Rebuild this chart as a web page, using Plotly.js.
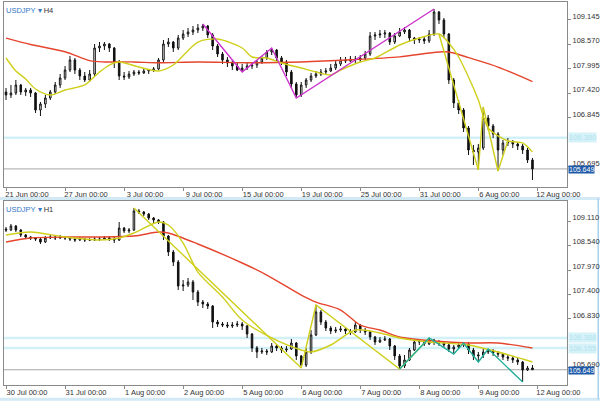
<!DOCTYPE html>
<html><head><meta charset="utf-8">
<script src="https://cdn.plot.ly/plotly-3.0.1.min.js"></script>
<style>html,body{margin:0;padding:0;background:#fff;}#chart{width:600px;height:402px;}</style>
</head><body><div id="chart"></div>
<script>
// ---------- H4 panel (USDJPY, 8-hour steps) ----------
const h4TimeLabels = ["21 Jun 00:00","27 Jun 00:00","3 Jul 00:00","9 Jul 00:00","15 Jul 00:00","19 Jul 00:00","25 Jul 00:00","31 Jul 00:00","6 Aug 00:00","12 Aug 00:00"];
const timeTickIdx = [0,12,24,36,48,60,72,84,96,108];
const h4PriceTicks = [109.145,108.570,107.995,107.420,106.845,105.695];

const h4Open = [107.455,107.384,107.431,107.619,107.455,107.502,107.431,107.032,107.173,107.314,
107.455,107.619,107.783,107.971,108.206,107.971,107.830,107.736,107.877,108.487,
108.534,108.581,108.487,108.159,107.830,107.807,107.877,107.924,107.901,107.948,
107.971,107.995,108.206,108.581,108.628,108.487,108.722,108.816,108.863,108.910,
108.957,109.004,108.793,108.534,108.347,108.206,108.135,108.065,107.971,108.018,
108.065,108.088,108.159,108.253,108.394,108.440,108.253,108.159,107.924,107.643,
107.384,107.619,107.736,107.830,107.877,107.924,107.948,108.018,108.112,108.206,
108.182,108.229,108.206,108.253,108.347,108.769,108.793,108.816,108.839,108.628,
108.769,108.863,108.910,108.722,108.675,108.699,108.652,108.816,109.332,109.145,
108.816,107.736,107.197,107.032,106.610,106.093,106.047,106.140,106.845,106.657,
106.469,106.093,106.258,106.281,106.234,106.187,106.093,105.859];
const h4High = [107.549,107.619,107.736,107.643,107.549,107.549,107.455,107.220,107.384,107.502,
107.689,107.877,108.065,108.300,108.253,108.018,107.924,107.971,108.581,108.628,
108.628,108.605,108.511,108.206,107.924,107.948,107.971,107.971,107.995,107.995,
108.041,108.253,108.675,108.722,108.652,108.793,108.910,108.957,109.004,109.051,
109.051,109.027,108.839,108.581,108.394,108.276,108.206,108.135,108.112,108.135,
108.135,108.206,108.300,108.440,108.487,108.464,108.300,108.206,107.971,107.689,
107.689,107.783,107.901,107.948,107.995,108.018,108.112,108.182,108.276,108.276,
108.300,108.300,108.323,108.417,108.863,108.863,108.910,108.910,108.863,108.839,
108.957,108.980,108.933,108.746,108.746,108.746,108.910,109.403,109.356,109.192,
108.839,107.783,107.267,107.079,106.657,106.211,106.234,107.103,106.915,106.704,
106.516,106.328,106.375,106.328,106.281,106.234,106.140,105.906];
const h4Low = [107.267,107.314,107.384,107.384,107.361,107.337,106.962,106.891,107.079,107.267,
107.408,107.549,107.736,107.924,107.877,107.736,107.689,107.689,107.830,108.394,
108.440,108.394,108.018,107.736,107.736,107.760,107.830,107.854,107.877,107.877,
107.924,107.971,108.159,108.511,108.394,108.440,108.675,108.746,108.793,108.839,
108.886,108.722,108.440,108.276,108.112,108.041,107.971,107.948,107.924,107.971,
107.995,108.018,108.112,108.206,108.323,108.182,108.088,107.830,107.549,107.314,
107.337,107.549,107.689,107.783,107.830,107.877,107.924,107.971,108.065,108.135,
108.159,108.135,108.159,108.206,108.300,108.675,108.722,108.722,108.558,108.581,
108.746,108.816,108.628,108.581,108.605,108.581,108.605,108.769,109.051,108.722,
107.643,107.079,106.938,106.516,105.976,105.741,105.624,106.093,106.563,106.375,
105.601,105.976,106.187,106.140,106.093,106.000,105.788,105.389];
const h4Close = [107.384,107.431,107.619,107.455,107.502,107.431,107.032,107.173,107.314,107.455,
107.619,107.783,107.971,108.206,107.971,107.830,107.736,107.877,108.487,108.534,
108.581,108.487,108.159,107.830,107.807,107.877,107.924,107.901,107.948,107.971,
107.995,108.206,108.581,108.628,108.487,108.722,108.816,108.863,108.910,108.957,
109.004,108.793,108.534,108.347,108.206,108.135,108.065,107.971,108.018,108.065,
108.088,108.159,108.253,108.394,108.440,108.253,108.159,107.924,107.643,107.384,
107.619,107.736,107.830,107.877,107.924,107.948,108.018,108.112,108.206,108.182,
108.229,108.206,108.253,108.347,108.769,108.793,108.816,108.839,108.628,108.769,
108.863,108.910,108.722,108.675,108.699,108.652,108.816,109.332,109.145,108.816,
107.736,107.197,107.032,106.610,106.093,106.047,106.140,106.845,106.657,106.469,
106.093,106.258,106.281,106.234,106.187,106.093,105.859,105.649];

const h4RedMaIdx = [0,5,12,17,20,26,31,39,50,60,70,80,86,89,91,94,100,107];
const h4RedMaVal = [108.72,108.57,108.40,108.19,108.16,108.16,108.14,108.16,108.14,108.16,108.21,108.28,108.37,108.40,108.37,108.26,108.04,107.70];
const h4YelMaIdx = [0,2,4,6,9,12,16,19,21,23,27,31,34,39,43,48,50,53,56,60,63,66,68,72,75,80,84,88,90,92,94,96,98,102,105,107];
const h4YelMaVal = [108.253,107.948,107.760,107.525,107.384,107.502,107.619,107.924,108.088,108.159,108.041,107.948,108.088,108.628,108.699,108.487,108.276,108.253,108.135,108.018,107.924,107.854,107.971,108.159,108.253,108.558,108.722,108.816,108.605,108.276,107.807,107.267,106.610,106.305,106.258,106.047];
const h4ZzMagIdx = [40,48,54,59,87];
const h4ZzMagVal = [109.051,107.924,108.487,107.314,109.403];
const h4ZzYelIdx = [88,96,97,100,102];
const h4ZzYelVal = [108.816,105.624,107.103,105.601,106.305];
const h4Levels = [106.380];

// ---------- H1 panel (2-hour steps) ----------
const h1TimeLabels = ["30 Jul 00:00","31 Jul 00:00","1 Aug 00:00","2 Aug 00:00","5 Aug 00:00","6 Aug 00:00","7 Aug 00:00","8 Aug 00:00","9 Aug 00:00","12 Aug 00:00"];
const h1PriceTicks = [109.110,108.540,107.970,107.400,106.830,105.690];

const h1Open = [108.924,108.901,108.994,108.901,108.785,108.738,108.715,108.691,108.622,108.715,
108.738,108.715,108.738,108.715,108.691,108.668,108.691,108.668,108.668,108.691,
108.691,108.715,108.691,108.668,108.947,108.878,108.901,109.343,109.320,109.273,
109.180,109.134,109.087,108.761,108.389,108.156,107.598,107.621,107.691,107.458,
107.225,107.179,107.132,106.760,106.714,106.690,106.667,106.690,106.714,106.667,
106.481,106.155,106.062,106.085,106.062,106.202,106.155,106.108,106.132,106.271,
105.969,105.759,106.062,106.458,106.993,106.760,106.620,106.551,106.574,106.597,
106.551,106.527,106.690,106.574,106.527,106.411,106.295,106.341,106.364,106.202,
105.969,105.736,105.876,106.108,106.295,106.318,106.248,106.341,106.295,106.271,
106.225,106.132,106.178,106.225,106.248,106.108,105.969,105.992,106.062,106.085,
106.039,106.015,105.946,105.922,105.876,105.829,105.643,105.690];
const h1High = [108.971,109.041,109.017,108.924,108.808,108.761,108.738,108.715,108.761,108.785,
108.761,108.785,108.761,108.738,108.715,108.738,108.715,108.715,108.738,108.738,
108.761,108.761,108.738,109.087,108.971,108.947,109.413,109.390,109.343,109.296,
109.203,109.157,109.110,108.785,108.435,108.203,107.737,107.784,107.737,107.505,
107.272,107.225,107.156,106.807,106.760,106.760,106.760,106.783,106.760,106.690,
106.504,106.202,106.155,106.132,106.271,106.248,106.202,106.202,106.364,106.295,
105.992,106.155,106.574,107.156,107.039,106.807,106.667,106.644,106.667,106.644,
106.597,106.760,106.714,106.620,106.551,106.434,106.411,106.434,106.388,106.225,
106.015,105.992,106.155,106.364,106.364,106.341,106.388,106.364,106.341,106.318,
106.271,106.225,106.271,106.271,106.295,106.155,106.062,106.132,106.132,106.132,
106.085,106.039,105.992,105.969,105.922,105.853,105.736,105.759];
const h1Low = [108.854,108.878,108.854,108.738,108.691,108.668,108.645,108.575,108.598,108.691,
108.668,108.691,108.668,108.645,108.622,108.645,108.622,108.645,108.645,108.645,
108.668,108.645,108.598,108.645,108.831,108.831,108.878,109.273,109.227,109.134,
109.064,109.041,108.668,108.296,108.063,107.505,107.481,107.575,107.272,107.132,
107.086,107.063,106.620,106.644,106.644,106.620,106.620,106.644,106.574,106.388,
106.062,105.922,106.015,105.992,106.039,106.085,106.039,106.062,106.108,105.876,
105.690,105.713,106.015,106.434,106.690,106.551,106.481,106.504,106.527,106.481,
106.458,106.504,106.504,106.458,106.341,106.225,106.271,106.318,106.108,105.876,
105.666,105.690,105.853,106.085,106.225,106.202,106.225,106.225,106.202,106.155,
106.062,106.015,106.155,106.178,106.015,105.876,105.829,105.922,106.015,105.969,
105.946,105.876,105.853,105.806,105.759,105.364,105.620,105.643];
const h1Close = [108.901,108.994,108.901,108.785,108.738,108.715,108.691,108.622,108.715,108.738,
108.715,108.738,108.715,108.691,108.668,108.691,108.668,108.668,108.691,108.691,
108.715,108.691,108.668,108.947,108.878,108.901,109.343,109.320,109.273,109.180,
109.134,109.087,108.761,108.389,108.156,107.598,107.621,107.691,107.458,107.225,
107.179,107.132,106.760,106.714,106.690,106.667,106.690,106.714,106.667,106.481,
106.155,106.062,106.085,106.062,106.202,106.155,106.108,106.132,106.271,105.969,
105.759,106.062,106.458,106.993,106.760,106.620,106.551,106.574,106.597,106.551,
106.527,106.690,106.574,106.527,106.411,106.295,106.341,106.364,106.202,105.969,
105.736,105.876,106.108,106.295,106.318,106.248,106.341,106.295,106.271,106.225,
106.132,106.178,106.225,106.248,106.108,105.969,105.992,106.062,106.085,106.039,
106.015,105.946,105.922,105.876,105.829,105.643,105.690,105.649];

const h1RedMaIdx = [0,5,12,19,26,31,33,39,48,53,60,63,68,72,76,80,87,94,100,107];
const h1RedMaVal = [108.622,108.715,108.738,108.738,108.761,108.854,108.831,108.575,108.133,107.853,107.388,107.225,107.039,106.690,106.574,106.411,106.318,106.271,106.271,106.155];
const h1YelMaIdx = [0,5,12,19,23,26,31,33,36,39,44,48,54,60,62,66,71,76,80,86,94,100,107];
const h1YelMaVal = [108.785,108.854,108.738,108.668,108.715,108.831,109.087,109.017,108.598,107.923,107.341,106.807,106.388,106.108,106.062,106.225,106.574,106.504,106.388,106.295,106.225,106.062,105.829];
const h1ZzYelIdx = [26,60,63,80,86];
const h1ZzYelVal = [109.413,105.690,107.156,105.666,106.388];
const h1ZzTealIdx = [80,86,91,93,96,98,105];
const h1ZzTealVal = [105.666,106.388,106.015,106.271,105.829,106.132,105.364];
const h1Levels = [106.388,106.155];

const symbol = "USDJPY";
const lastPrice = 105.649;

// ---------- styles ----------
const FONT = '"Liberation Sans", Arial, sans-serif';
const RED = '#e5452d', YEL = '#cfcf1c', MAG = '#cc33cc', TEAL = '#22b09a';
const idx = a => a.map((_, i) => i);

function candle(o,h,l,c,xa,ya){
  return {type:'candlestick', x:idx(c), open:o, high:h, low:l, close:c, xaxis:xa, yaxis:ya,
    whiskerwidth:0, hoverinfo:'skip',
    increasing:{line:{color:'#111',width:1}, fillcolor:'#ffffff'},
    decreasing:{line:{color:'#111',width:1}, fillcolor:'#111111'}};
}
function line(xs,ys,color,xa,ya,smooth){
  return {type:'scatter', mode:'lines', x:xs, y:ys, xaxis:xa, yaxis:ya, hoverinfo:'skip',
    line:{color:color, width:1.4, shape: smooth ? 'spline' : 'linear', smoothing: smooth ? 0.8 : 0}};
}

const traces = [
  candle(h4Open,h4High,h4Low,h4Close,'x','y'),
  line(h4RedMaIdx,h4RedMaVal,RED,'x','y',true),
  line(h4YelMaIdx,h4YelMaVal,YEL,'x','y',true),
  line(h4ZzMagIdx,h4ZzMagVal,MAG,'x','y',false),
  line(h4ZzYelIdx,h4ZzYelVal,YEL,'x','y',false),
  candle(h1Open,h1High,h1Low,h1Close,'x2','y2'),
  line(h1RedMaIdx,h1RedMaVal,RED,'x2','y2',true),
  line(h1YelMaIdx,h1YelMaVal,YEL,'x2','y2',true),
  line(h1ZzYelIdx,h1ZzYelVal,YEL,'x2','y2',false),
  line(h1ZzTealIdx,h1ZzTealVal,TEAL,'x2','y2',false)
];

const tickFont = {family:FONT, size:7.5, color:'#333'};
function xAx(labels, anchor){
  return {domain:[0,1], anchor:anchor, range:[-0.41,114.02], tickvals:timeTickIdx, ticktext:labels,
    ticks:'outside', ticklen:3, tickcolor:'#8a8a8a', tickfont:tickFont, ticklabelshift:21, ticklabelstandoff:-3,
    showgrid:false, zeroline:false, showline:true, linecolor:'#8a8a8a', linewidth:1, mirror:true,
    rangeslider:{visible:false}, fixedrange:true};
}
function yAx(ticks, anchor, dom, rng){
  return {domain:dom, anchor:anchor, side:'right', range:rng, tickvals:ticks, tickformat:'.3f',
    ticks:'outside', ticklen:3, tickcolor:'#8a8a8a', tickfont:tickFont, ticklabelshift:-4,
    showgrid:false, zeroline:false, showline:true, linecolor:'#8a8a8a', linewidth:1, mirror:true, fixedrange:true};
}

const shapes = [];
const annotations = [];
function levelMarks(levels, xref, yref){
  levels.forEach(v => {
    shapes.push({type:'line', xref:xref+' domain', yref:yref, x0:0, x1:1, y0:v, y1:v, line:{color:'#d2f0f8', width:2.5}, layer:'below'});
    annotations.push({xref:'paper', yref:yref, x:1, y:v, xanchor:'left', yanchor:'middle', xshift:1, showarrow:false,
      text:v.toFixed(3), bgcolor:'#d6f2f9', borderpad:0, font:{family:FONT, size:7.5, color:'#b3e2ee'}});
  });
  shapes.push({type:'line', xref:xref+' domain', yref:yref, x0:0, x1:1, y0:lastPrice, y1:lastPrice, line:{color:'#a6a6a6', width:1}, layer:'below'});
  annotations.push({xref:'paper', yref:yref, x:1, y:lastPrice, xanchor:'left', yanchor:'middle', xshift:1, yshift:-1, showarrow:false,
    text:lastPrice.toFixed(3), bgcolor:'#1e5aa8', borderpad:0, font:{family:FONT, size:7, color:'#ffffff'}});
}
levelMarks(h4Levels,'x','y');
levelMarks(h1Levels,'x2','y2');

annotations.push({xref:'paper', yref:'paper', x:0, y:1, xanchor:'left', yanchor:'top', xshift:0, yshift:-2, showarrow:false,
  text:'<span style="color:#3279c6">'+symbol+' ▾</span> H4', font:{family:FONT, size:7.5, color:'#333'}});
annotations.push({xref:'paper', yref:'paper', x:0, y:0.4804, xanchor:'left', yanchor:'top', xshift:0, yshift:-2, showarrow:false,
  text:'<span style="color:#3279c6">'+symbol+' ▾</span> H1', font:{family:FONT, size:7.5, color:'#333'}});

// window separators (light blue chrome)
shapes.push({type:'line', xref:'paper', yref:'paper', x0:-0.01, x1:1.06, y0:0.4870, y1:0.4870, line:{color:'#d3e9f6', width:3}, layer:'below'});
shapes.push({type:'line', xref:'paper', yref:'paper', x0:-0.01, x1:1.06, y0:-0.037, y1:-0.037, line:{color:'#d3e9f6', width:3}, layer:'below'});
shapes.push({type:'line', xref:'paper', yref:'paper', x0:1.0555, x1:1.0555, y0:0.487, y1:-0.037, line:{color:'#a9d0ec', width:1.5}, layer:'below'});

const layout = {
  width:600, height:402, margin:{l:4, r:33, t:2, b:17},
  paper_bgcolor:'#ffffff', plot_bgcolor:'#ffffff', showlegend:false, hovermode:false,
  boxgap:0.55,
  font:{family:FONT, size:7.5, color:'#333'},
  xaxis: xAx(h4TimeLabels,'y'),
  yaxis: yAx(h4PriceTicks,'x',[0.517,1],[105.225,109.567]),
  xaxis2: xAx(h1TimeLabels,'y2'),
  yaxis2: yAx(h1PriceTicks,'x2',[0,0.4804],[105.294,109.576]),
  shapes: shapes, annotations: annotations
};
Plotly.newPlot('chart', traces, layout, {staticPlot:true, displayModeBar:false});
</script></body></html>
